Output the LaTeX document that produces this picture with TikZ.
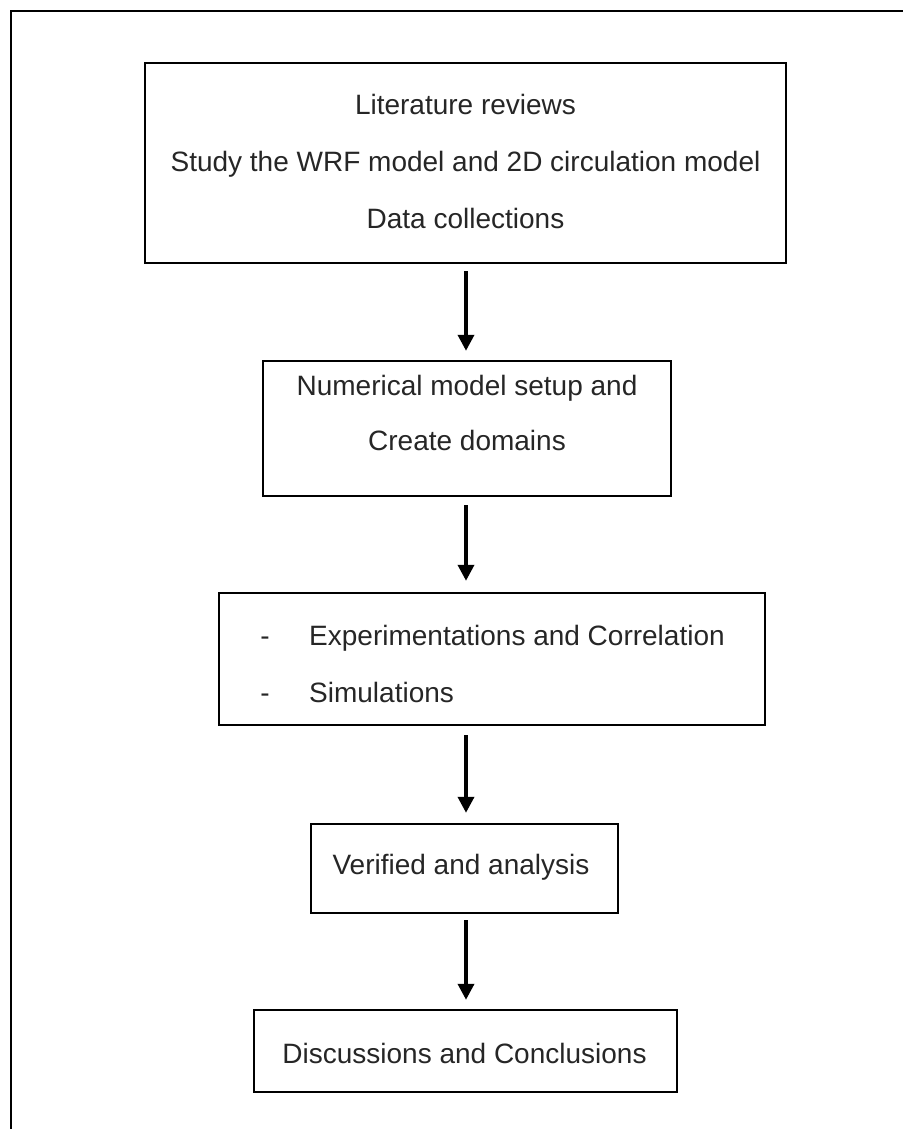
\documentclass[tikz,border=0pt]{standalone}
\usepackage{fontspec}
\setmainfont{Liberation Sans}
\usetikzlibrary{arrows.meta}
\tikzset{
  stepbox/.style={draw=black, line width=2.6pt, fill=none, inner sep=0pt},
  label text/.style={anchor=base, inner sep=0pt, text=black!85,
    font=\fontsize{28}{33}\selectfont},
  flow/.style={line width=3.6pt, -{Triangle[length=16pt,width=16pt]}},
  frame/.style={line width=2pt, line cap=rect}
}
\begin{document}
\begin{tikzpicture}[x=1pt, y=-1pt]
  \useasboundingbox (0,0) rectangle (902,1129);

  % open page frame: top edge and left edge only
  \coordinate (fr-top-right) at (902,11);
  \coordinate (fr-corner) at (11,11);
  \coordinate (fr-bottom-left) at (11,1129);
  \draw[frame] (fr-top-right) -- (fr-corner) -- (fr-bottom-left);

  % process boxes
  \draw[stepbox] (145,63) rectangle (786,263);
  \node[minimum width=641pt, minimum height=200pt] (b1) at (465.5,163) {};
  \draw[stepbox] (263,361) rectangle (671,496);
  \node[minimum width=408pt, minimum height=135pt] (b2) at (467,428.5) {};
  \draw[stepbox] (219,593) rectangle (765,725);
  \node[minimum width=546pt, minimum height=132pt] (b3) at (492,659) {};
  \draw[stepbox] (311,824) rectangle (618,913);
  \node[minimum width=307pt, minimum height=89pt] (b4) at (464.5,868.5) {};
  \draw[stepbox] (254,1010) rectangle (677,1092);
  \node[minimum width=423pt, minimum height=82pt] (b5) at (465.5,1051) {};

  % box texts
  \node[label text] (t1a) at (465.5,115) {Literature reviews};
  \node[label text] (t1b) at (465.5,171) {Study the WRF model and 2D circulation model};
  \node[label text] (t1c) at (465.5,228) {Data collections};

  \node[label text] (t2a) at (467,395) {Numerical model setup and};
  \node[label text] (t2b) at (467,450) {Create domains};

  \node[label text] (d3a) at (265,645) {-};
  \node[label text, anchor=base west] (t3a) at (309,645) {Experimentations and Correlation};
  \node[label text] (d3b) at (265,702) {-};
  \node[label text, anchor=base west] (t3b) at (309,702) {Simulations};

  \node[label text] (t4) at (461,874) {Verified and analysis};

  \node[label text] (t5) at (464.5,1063) {Discussions and Conclusions};

  % connectors
  \draw[flow] ([yshift=-8pt]b1.south -| 466,0) -- ([yshift=10pt]b2.north -| 466,0);
  \draw[flow] ([yshift=-9pt]b2.south -| 466,0) -- ([yshift=12pt]b3.north -| 466,0);
  \draw[flow] ([yshift=-10pt]b3.south -| 466,0) -- ([yshift=11pt]b4.north -| 466,0);
  \draw[flow] ([yshift=-7pt]b4.south -| 466,0) -- ([yshift=10pt]b5.north -| 466,0);
\end{tikzpicture}
\end{document}
